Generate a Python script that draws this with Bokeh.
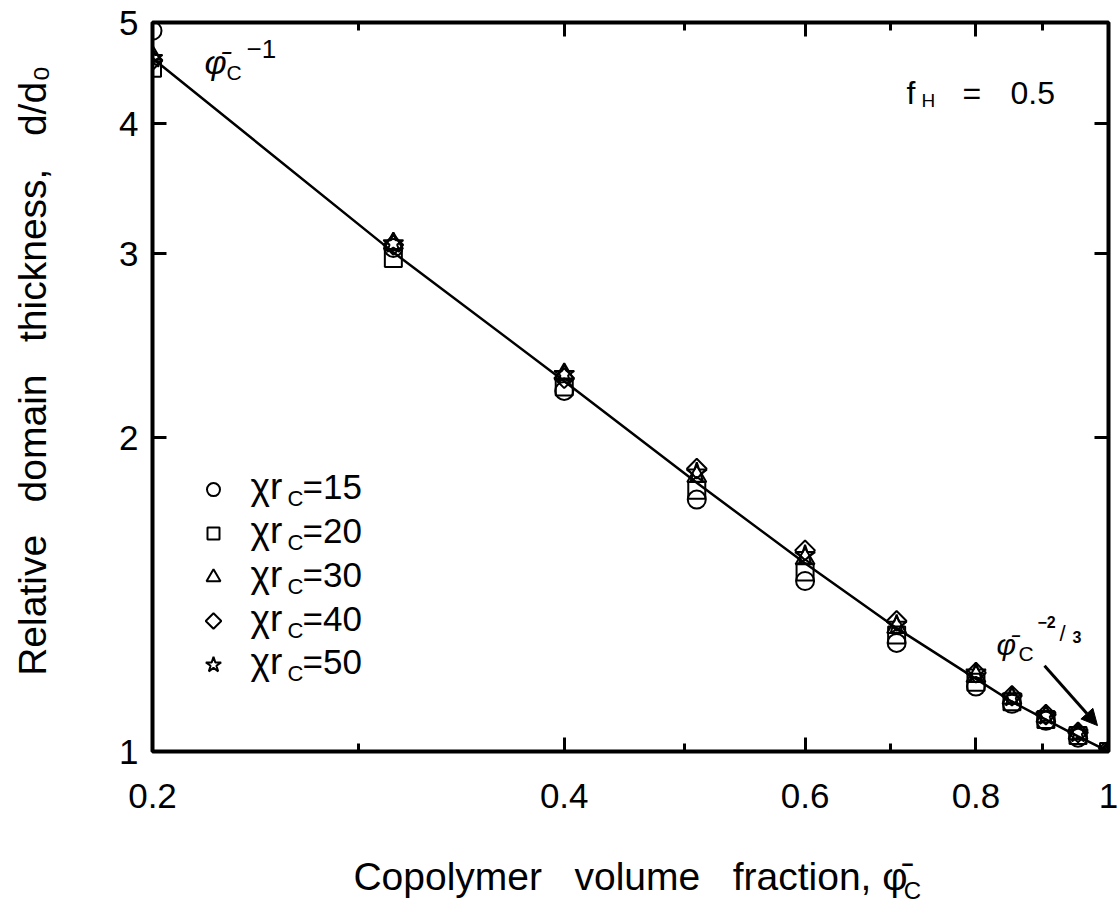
import math
from bokeh.plotting import figure
from bokeh.models import (Range1d, FixedTicker, LogAxis, Label, Arrow, NormalHead,
                          NumeralTickFormatter, CustomJSTickFormatter)
from bokeh.embed import file_html
from bokeh.resources import INLINE

# ---------------- data ----------------
phi_c = [0.2, 0.3, 0.4, 0.5, 0.6, 0.7, 0.8, 0.85, 0.9, 0.95, 1.0]
d_chi15 = [4.91, 3.04, 2.217, 1.744, 1.457, 1.271, 1.154, 1.111, 1.070, 1.031, 1.0]
d_chi20 = [4.52, 2.97, 2.236, 1.780, 1.486, 1.293, 1.165, 1.116, 1.073, 1.036, 1.0]
d_chi30 = [4.64, 3.07, 2.300, 1.835, 1.530, 1.315, 1.180, 1.125, 1.080, 1.040, 1.0]
d_chi40 = [4.60, 3.06, 2.280, 1.867, 1.559, 1.334, 1.190, 1.131, 1.085, 1.043, 1.0]
d_chi50 = [4.62, 3.07, 2.300, 1.850, 1.542, 1.322, 1.190, 1.128, 1.083, 1.042, 1.0]
theory = [4.62, 3.01, 2.265, 1.810, 1.515, 1.313, 1.174, 1.116, 1.073, 1.034, 1.0]

legend_values = ["15", "20", "30", "40", "50"]
x_ticks = [0.2, 0.4, 0.6, 0.8, 1.0]
y_ticks = [1, 2, 3, 4, 5]
NB = "\u00a0"
GAP = " " + NB * 2
x_title = "Copolymer" + GAP + "volume" + GAP + "fraction, φ\u0304"
x_title_sub = "C"
y_title = NB * 3 + "Relative" + GAP + "domain" + GAP + "thickness," + GAP + "d/d₀"

FONT = "Liberation Sans"

# ---------------- figure ----------------
p = figure(width=1120, height=906, x_axis_type="log", y_axis_type="log",
           x_range=Range1d(0.2, 1.0), y_range=Range1d(1.0, 5.0),
           output_backend="svg", toolbar_location=None,
           min_border_left=152, min_border_right=12, min_border_top=22, min_border_bottom=152)
p.xgrid.visible = False
p.ygrid.visible = False
p.outline_line_color = "black"
p.outline_line_width = 4
p.background_fill_color = "white"
p.border_fill_color = "white"

x_minor = [math.sqrt(a * b) for a, b in zip(x_ticks[:-1], x_ticks[1:])]

def style_axis(ax, labels=True):
    ax.axis_line_color = None
    ax.major_tick_in = 14
    ax.major_tick_out = 0
    ax.minor_tick_in = 8
    ax.minor_tick_out = 0
    ax.major_tick_line_width = 3
    ax.minor_tick_line_width = 3
    ax.major_tick_line_color = "black"
    ax.minor_tick_line_color = "black"
    if labels:
        ax.major_label_text_font = FONT
        ax.major_label_text_font_size = "35px"
        ax.major_label_text_color = "black"
    else:
        ax.formatter = CustomJSTickFormatter(code="return ''")
        ax.major_label_text_font_size = "1px"
        ax.major_label_standoff = 0

xa = p.xaxis[0]
xa.ticker = FixedTicker(ticks=x_ticks, minor_ticks=x_minor)
xa.formatter = NumeralTickFormatter(format="0.[0]")
style_axis(xa)
xa.major_label_standoff = 32
xa.axis_label = x_title
xa.axis_label_text_font = FONT
xa.axis_label_text_font_size = "39px"
xa.axis_label_text_font_style = "normal"
xa.axis_label_text_color = "black"
xa.axis_label_standoff = 44

ya = p.yaxis[0]
ya.ticker = FixedTicker(ticks=y_ticks, minor_ticks=[])
ya.formatter = NumeralTickFormatter(format="0")
style_axis(ya)
ya.major_label_standoff = 14
ya.axis_label = y_title
ya.axis_label_text_font = FONT
ya.axis_label_text_font_size = "39px"
ya.axis_label_text_font_style = "normal"
ya.axis_label_text_color = "black"
ya.axis_label_standoff = 62

top = LogAxis(ticker=FixedTicker(ticks=x_ticks, minor_ticks=x_minor))
style_axis(top, labels=False)
p.add_layout(top, "above")
right = LogAxis(ticker=FixedTicker(ticks=y_ticks, minor_ticks=[]))
style_axis(right, labels=False)
p.add_layout(right, "right")

def X(px):
    return 0.2 * 5 ** ((px - 152) / 956)

def Y(py):
    return 5 ** ((754 - py) / 732)

# subscript C of the x title, drawn as the one label of a bare axis below
sub = LogAxis(ticker=FixedTicker(ticks=[X(912)], minor_ticks=[]),
              formatter=CustomJSTickFormatter(code="return '%s'" % x_title_sub))
sub.axis_line_color = None
sub.major_tick_line_color = None
sub.minor_tick_line_color = None
sub.major_tick_in = 0
sub.major_tick_out = 0
sub.minor_tick_in = 0
sub.minor_tick_out = 0
sub.major_label_text_font = FONT
sub.major_label_text_font_size = "24px"
sub.major_label_text_color = "black"
sub.major_label_standoff = -24
p.add_layout(sub, "below")

# ---------------- data marks ----------------
p.line(phi_c, theory, line_color="black", line_width=2.5)
mk = dict(fill_color=None, line_color="black", line_width=2)
p.scatter(phi_c, d_chi15, marker="circle", size=18, **mk)
p.scatter(phi_c, d_chi20, marker="square", size=17, **mk)
p.scatter(phi_c, d_chi30, marker="triangle", size=19, **mk)
p.scatter(phi_c, d_chi40, marker="square", angle=math.pi / 4, size=14, **mk)
p.scatter(phi_c, d_chi50, marker="star", size=21, **mk)

# ---------------- annotations inside the frame ----------------
DY = -10  # baseline correction observed for Label text

def lab(text, px, py, size, align="left", baseline="alphabetic", style="normal"):
    p.add_layout(Label(x=X(px), y=Y(py + DY), text=text, text_font=FONT,
                       text_font_size=f"{size}px", text_align=align,
                       text_baseline=baseline, text_font_style=style,
                       text_color="black"))

# legend
markers = ["circle", "square", "triangle", "diamond", "star"]
leg_sizes = [13, 12, 14, 11, 16]
for k, (m, val) in enumerate(zip(markers, legend_values)):
    b = 498 + 44 * k
    if m == "diamond":
        p.scatter([X(213)], [Y(b - 7)], marker="square", angle=math.pi / 4, size=leg_sizes[k], **mk)
    else:
        p.scatter([X(213)], [Y(b - 7)], marker=m, size=leg_sizes[k], **mk)
    lab("χr", 250, b, 37)
    lab("C", 287, b + 12, 22)
    lab("=" + val, 302, b, 35)

# phi_C^-1
lab("φ\u0304", 204, 72, 34, style="italic")
lab("C", 226, 82, 21)
lab("−1", 246, 59, 26)

# f_H = 0.5
lab("f", 906, 103, 32)
lab("H", 921, 110, 19)
lab("=", 962, 103, 32)
lab("0.5", 1010, 103, 32)

# phi_C^-2/3 with arrow
lab("φ\u0304", 996, 657, 30, style="italic")
lab("C", 1018, 666, 21)
lab("−2", 1037, 634, 16, style="bold")
lab("/", 1059, 646, 22)
lab("3", 1072, 649, 16, style="bold")
p.add_layout(Arrow(end=NormalHead(size=16, fill_color="black", line_color="black"),
                   x_start=X(1044), y_start=Y(668), x_end=X(1097), y_end=Y(728),
                   line_width=3, line_color="black"))

open("out.html", "w").write(file_html(p, INLINE))
